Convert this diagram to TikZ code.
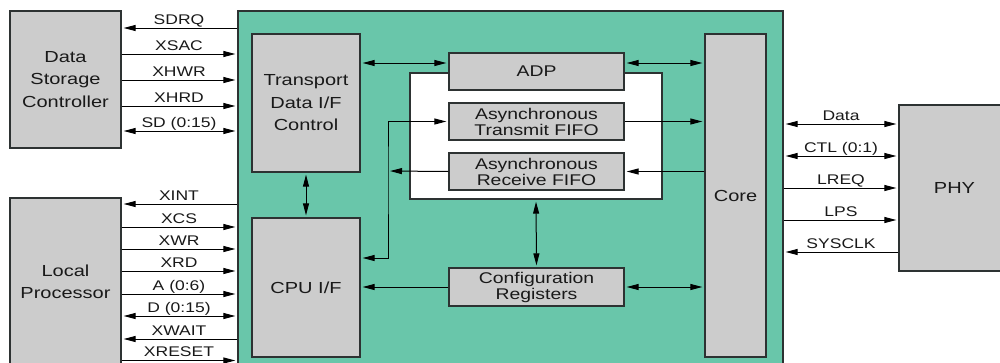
\documentclass[tikz,border=0pt]{standalone}
\usepackage{fontspec}
\setmainfont{Liberation Sans}
\usetikzlibrary{arrows.meta}
\definecolor{chipgreen}{RGB}{105,198,170}
\definecolor{boxgray}{RGB}{204,204,204}
\definecolor{edgegray}{RGB}{45,50,50}
\newcommand{\sx}[1]{\scalebox{1.25}[1]{#1}}
\tikzset{
  blk/.style={draw=edgegray, line width=1.3pt, fill=boxgray, inner sep=0pt},
  btxt/.style={font=\fontsize{16}{22.5}\selectfont, align=center, inner sep=0pt, text=black!90},
  ftxt/.style={font=\fontsize{15.5}{16}\selectfont, align=center, inner sep=0pt, text=black!90},
  lbl/.style={font=\fontsize{14}{14}\selectfont, anchor=base, inner sep=0pt, text=black!90},
  sigE/.style={line width=1pt, -{Triangle[length=12pt,width=6pt]}, shorten >=2pt},
  sigB/.style={line width=1pt, {Triangle[length=12pt,width=6pt]}-{Triangle[length=12pt,width=6pt]}, shorten >=2pt, shorten <=2pt}
}
\begin{document}
\begin{tikzpicture}[x=1pt,y=-1pt]
\useasboundingbox (0,0) rectangle (1000,362);
\clip (0,0) rectangle (1000,362);
\fill[white] (0,0) rectangle (1000,362);

% main chip
\node[draw=edgegray, line width=1.3pt, fill=chipgreen, minimum width=545pt, minimum height=364pt, inner sep=0pt] (chip) at (510.5,193) {};

% external blocks
\node[blk, minimum width=111pt, minimum height=137pt, btxt] (dsc) at (65.5,79.5) {\sx{Data}\\\sx{Storage}\\\sx{Controller}};
\node[blk, minimum width=111pt, minimum height=177pt] (lp) at (65.5,286.5) {};
\node[btxt] (lpt) at (65.5,282) {\sx{Local}\\\sx{Processor}};
\node[blk, minimum width=111pt, minimum height=166pt, btxt] (phy) at (954.5,188) {\sx{PHY}};

% internal blocks
\node[blk, minimum width=108pt, minimum height=138pt, btxt] (tdc) at (306,103) {\sx{Transport}\\\sx{Data I/F}\\\sx{Control}};
\node[blk, minimum width=108pt, minimum height=139pt, btxt] (cpu) at (306,287.5) {\sx{CPU I/F}};
\node[draw=edgegray, line width=1.3pt, fill=white, minimum width=252pt, minimum height=126pt, inner sep=0pt] (wb) at (536,136) {};
\node[blk, minimum width=175pt, minimum height=37pt, ftxt] (adp) at (536.5,71.5) {\sx{ADP}};
\node[blk, minimum width=175pt, minimum height=37pt, ftxt] (atf) at (536.5,121.5) {\sx{Asynchronous}\\\sx{Transmit FIFO}};
\node[blk, minimum width=175pt, minimum height=37pt, ftxt] (arf) at (536.5,171.5) {\sx{Asynchronous}\\\sx{Receive FIFO}};
\node[blk, minimum width=175pt, minimum height=38pt, ftxt] (cfg) at (536.5,287) {\sx{Configuration}\\\sx{Registers}};
\node[blk, minimum width=61pt, minimum height=323pt, btxt] (core) at (735.5,195.5) {\sx{Core}};
\coordinate (bus) at (388,171);

% Data storage controller signals
\draw[sigE] (chip.west |- 0,28) -- (dsc.east |- 0,28);
\draw[sigE] (dsc.east |- 0,54) -- (chip.west |- 0,54);
\draw[sigE] (dsc.east |- 0,80) -- (chip.west |- 0,80);
\draw[sigE] (dsc.east |- 0,106) -- (chip.west |- 0,106);
\draw[sigB] (dsc.east |- 0,131) -- (chip.west |- 0,131);
\node[lbl] (l1) at (179,24) {\sx{SDRQ}};
\node[lbl] (l2) at (179,50) {\sx{XSAC}};
\node[lbl] (l3) at (179,76) {\sx{XHWR}};
\node[lbl] (l4) at (179,102) {\sx{XHRD}};
\node[lbl] (l5) at (179,127) {\sx{SD (0:15)}};

% Local processor signals
\draw[sigE] (chip.west |- 0,204) -- (lp.east |- 0,204);
\draw[sigE] (lp.east |- 0,227) -- (chip.west |- 0,227);
\draw[sigE] (lp.east |- 0,249) -- (chip.west |- 0,249);
\draw[sigE] (lp.east |- 0,271) -- (chip.west |- 0,271);
\draw[sigE] (lp.east |- 0,294) -- (chip.west |- 0,294);
\draw[sigB] (lp.east |- 0,316) -- (chip.west |- 0,316);
\draw[sigE] (chip.west |- 0,339) -- (lp.east |- 0,339);
\draw[sigE] (lp.east |- 0,360.5) -- (chip.west |- 0,360.5);
\node[lbl] (l6) at (179,200) {\sx{XINT}};
\node[lbl] (l7) at (179,223) {\sx{XCS}};
\node[lbl] (l8) at (179,245) {\sx{XWR}};
\node[lbl] (l9) at (179,267) {\sx{XRD}};
\node[lbl] (l10) at (179,290) {\sx{A (0:6)}};
\node[lbl] (l11) at (179,312) {\sx{D (0:15)}};
\node[lbl] (l12) at (179,335) {\sx{XWAIT}};
\node[lbl] (l13) at (179,356.5) {\sx{XRESET}};

% PHY signals
\draw[sigB] (chip.east |- 0,124) -- (phy.west |- 0,124);
\draw[sigB] (chip.east |- 0,156) -- (phy.west |- 0,156);
\draw[sigE] (chip.east |- 0,188) -- (phy.west |- 0,188);
\draw[sigE] (chip.east |- 0,220) -- (phy.west |- 0,220);
\draw[sigE] (phy.west |- 0,252) -- (chip.east |- 0,252);
\node[lbl] (r1) at (841,120) {\sx{Data}};
\node[lbl] (r2) at (841,152) {\sx{CTL (0:1)}};
\node[lbl] (r3) at (841,184) {\sx{LREQ}};
\node[lbl] (r4) at (841,216) {\sx{LPS}};
\node[lbl] (r5) at (841,248) {\sx{SYSCLK}};

% internal connections
\draw[sigB] (tdc.south) -- (cpu.north);
\draw[sigB] (tdc.east |- 0,63) -- (adp.west |- 0,63);
\draw[sigB] (adp.east |- 0,63) -- (core.west |- 0,63);
\draw[sigE] (atf.east) -- (core.west |- atf.east);
\draw[sigE] (core.west |- arf.east) -- (arf.east);
\draw[sigB] (cpu.east |- 0,258) -| (bus) |- (atf.west);
\draw[sigE] (arf.west) -- (bus);
\draw[sigE] (cfg.west) -- (cpu.east |- cfg.west);
\draw[sigB] (cfg.east) -- (core.west |- cfg.east);
\draw[sigB] (wb.south) -- (cfg.north);
\end{tikzpicture}
\end{document}
